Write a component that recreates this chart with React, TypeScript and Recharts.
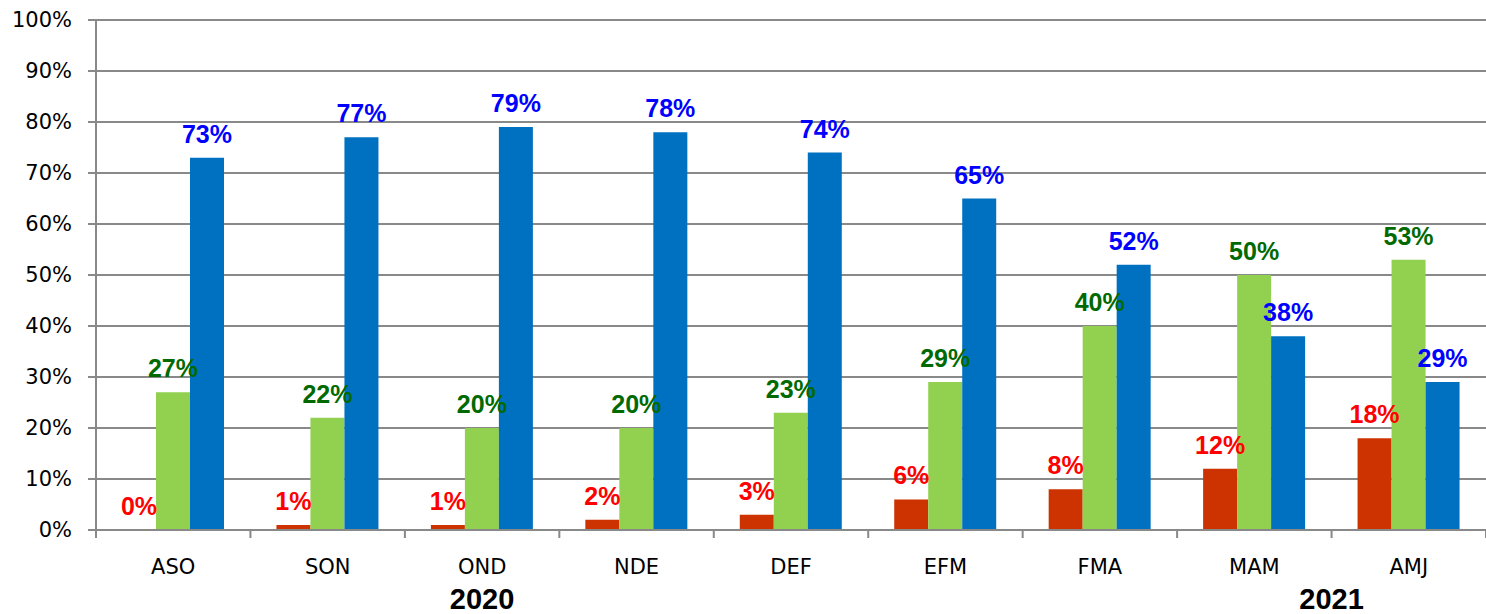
import React from "react";
import { BarChart, Bar, XAxis, YAxis, CartesianGrid, LabelList } from "recharts";

const categories = ["ASO", "SON", "OND", "NDE", "DEF", "EFM", "FMA", "MAM", "AMJ"];
const redValues = [0, 1, 1, 2, 3, 6, 8, 12, 18];
const greenValues = [27, 22, 20, 20, 23, 29, 40, 50, 53];
const blueValues = [73, 77, 79, 78, 74, 65, 52, 38, 29];
const yTicks = [0, 10, 20, 30, 40, 50, 60, 70, 80, 90, 100];
// year captions, placed at a position measured in category slots (0 = first category's centre)
const yearLabels = ["2020", "2021"];
const yearSlots = [2, 7.5];

const data = categories.map((c, i) => ({
  cat: c,
  red: redValues[i],
  green: greenValues[i],
  blue: blueValues[i],
}));

const CHART_W = 1486;
const CHART_H = 614;
const Y_AXIS_W = 96;
const GRID = "#898989";
const LABEL_GAP = 15;
const pct = (v: any) => `${v}%`;

const CategoryTick = (props: any) => {
  const { x, y, payload, index } = props;
  const bw = (CHART_W - Y_AXIS_W) / categories.length;
  const left = x - bw / 2;
  const years = yearLabels
    .map((label, k) => ({ label, slot: yearSlots[k] }))
    .filter((yv) => Math.floor(yv.slot) === index);
  return (
    <g>
      <line x1={left} y1={y} x2={left} y2={y + 8} stroke={GRID} strokeWidth={2} />
      {index === categories.length - 1 && (
        <line x1={x + bw / 2} y1={y} x2={x + bw / 2} y2={y + 8} stroke={GRID} strokeWidth={2} />
      )}
      <text x={x} y={y + 44} textAnchor="middle" fill="#000" fontSize={21} fontFamily="DejaVu Sans">
        {payload.value}
      </text>
      {years.map((yv) => (
        <text
          key={yv.label}
          x={x + (yv.slot - index) * bw}
          y={y + 79}
          textAnchor="middle"
          fill="#000"
          fontSize={29}
          fontWeight="bold"
          fontFamily="Liberation Sans"
        >
          {yv.label}
        </text>
      ))}
    </g>
  );
};

const LabelText = ({ x, y, color, text }: any) => (
  <text
    x={x}
    y={y}
    textAnchor="middle"
    fill={color}
    fontSize={25}
    fontWeight="bold"
    fontFamily="Liberation Sans"
  >
    {text}
  </text>
);

const makeLabel = (color: string) => (p: any) => {
  const { x, y, width, height, value } = p;
  const top = Math.min(Number(y), Number(y) + Number(height));
  return <LabelText x={Number(x) + Number(width) / 2} y={top - LABEL_GAP} color={color} text={pct(value)} />;
};

// The red series contains a zero value, which Recharts does not give a rectangle;
// its labels are therefore placed from the neighbouring green bar, using the green
// bar's own pixel scale (bottom = value 0, top = green value).
const greenAndRedLabel = (p: any) => {
  const { x, y, width, height, value, index } = p;
  const yTop = Number(y);
  const h = Number(height);
  const bottom = yTop + h;
  const pxPerUnit = h / Number(value);
  const redV = redValues[index];
  const redTop = bottom - redV * pxPerUnit;
  const w = Number(width);
  return (
    <g>
      <LabelText x={Number(x) + w / 2} y={yTop - LABEL_GAP} color="#006A00" text={pct(value)} />
      <LabelText x={Number(x) - w / 2} y={redTop - LABEL_GAP} color="#FF0000" text={pct(redV)} />
    </g>
  );
};

export default function App() {
  return (
    <div style={{ position: "absolute", left: 0, top: 0 }}>
      <BarChart
        width={CHART_W}
        height={CHART_H}
        data={data}
        margin={{ top: 20, right: 0, left: 0, bottom: 0 }}
        barSize={34}
        barGap={0}
      >
        <CartesianGrid vertical={false} stroke={GRID} strokeWidth={2} />
        <XAxis
          dataKey="cat"
          height={84}
          axisLine={{ stroke: GRID, strokeWidth: 2 }}
          tickLine={false}
          tickSize={0}
          tickMargin={0}
          interval={0}
          tick={<CategoryTick />}
        />
        <YAxis
          domain={[0, 100]}
          ticks={yTicks}
          tickFormatter={pct}
          width={Y_AXIS_W}
          tickSize={8}
          tickMargin={16}
          axisLine={{ stroke: GRID, strokeWidth: 2 }}
          tickLine={{ stroke: GRID, strokeWidth: 2 }}
          tick={{ fill: "#000", fontSize: 21, fontFamily: "DejaVu Sans" }}
        />
        <Bar dataKey="red" fill="#CC3300" isAnimationActive={false} />
        <Bar dataKey="green" fill="#92D050" isAnimationActive={false}>
          <LabelList dataKey="green" content={greenAndRedLabel} />
        </Bar>
        <Bar dataKey="blue" fill="#0070C0" isAnimationActive={false}>
          <LabelList dataKey="blue" content={makeLabel("#0000FF")} />
        </Bar>
      </BarChart>
    </div>
  );
}
